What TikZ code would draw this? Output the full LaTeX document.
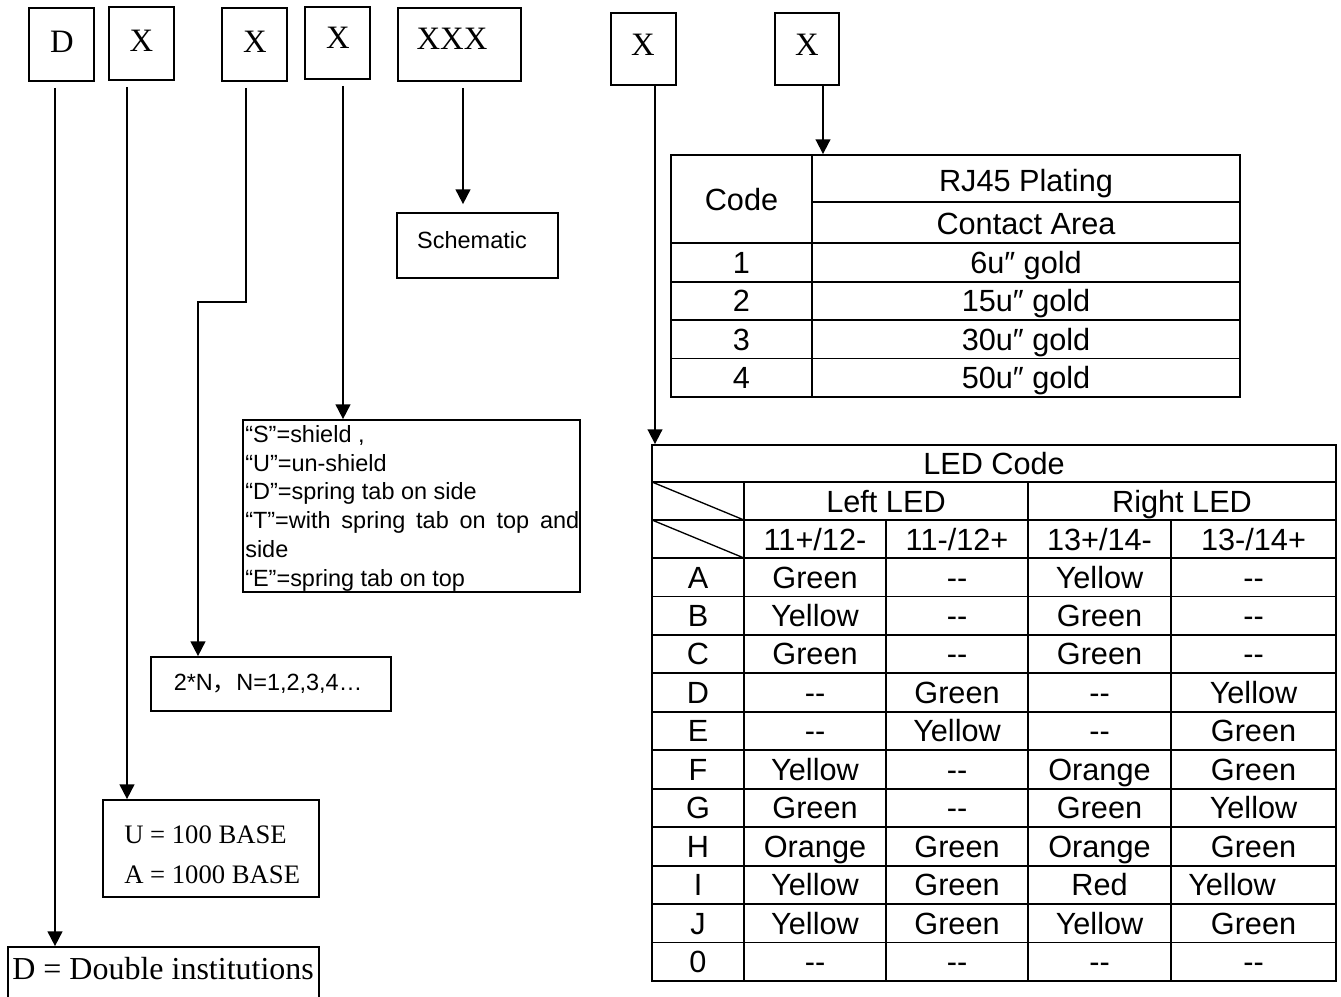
\documentclass[tikz,border=0pt]{standalone}
\usepackage{fontspec}
\setmainfont{Liberation Serif}
\newfontfamily\arial{Liberation Sans}
\newfontfamily\cjk{Noto Sans CJK SC}
\usetikzlibrary{arrows.meta,calc}
\newdimen\pxu \pxu=0.75pt
\begin{document}
\begin{tikzpicture}[x=0.75pt,y=-0.75pt,
  ebox/.style={draw,line width=1.3pt,inner sep=0pt},
  conn/.style={line width=1.4pt,-{Triangle[width=11pt,length=11pt]}},
  tline/.style={line width=1.4pt},
  bigserif/.style={inner sep=0pt,font=\fontsize{24.5}{29}\selectfont},
  tbl/.style={inner sep=0pt,anchor=base,font=\arial\fontsize{23}{27}\selectfont},
  smalltxt/.style={inner sep=0pt,font=\arial\fontsize{17.6}{21.6}\selectfont},
]
\useasboundingbox (0,0) rectangle (1341,996);
\clip (0,0) rectangle (1341,996);
\fill[white] (0,0) rectangle (1341,996);

% ---- top code boxes
\node[ebox,minimum width=65\pxu,minimum height=73\pxu] (bD) at (61.5,44.5) {};
\node[ebox,minimum width=65\pxu,minimum height=73\pxu] (bX1) at (141.5,43.5) {};
\node[ebox,minimum width=65\pxu,minimum height=73\pxu] (bX2) at (254.5,44.5) {};
\node[ebox,minimum width=65\pxu,minimum height=72\pxu] (bX3) at (337.5,43) {};
\node[ebox,minimum width=123\pxu,minimum height=73\pxu] (bXXX) at (459.5,44.5) {};
\node[ebox,minimum width=65\pxu,minimum height=72\pxu] (bX4) at (643.5,49) {};
\node[ebox,minimum width=64\pxu,minimum height=72\pxu] (bX5) at (807,49) {};
\node[bigserif] (tD) at (62,42) {D};
\node[bigserif] (tX1) at (141.5,41) {X};
\node[bigserif] (tX2) at (255,42) {X};
\node[bigserif] (tX3) at (338,38) {X};
\node[bigserif] (tXXX) at (452,39) {XXX};
\node[bigserif] (tX4) at (643,45) {X};
\node[bigserif] (tX5) at (807,45) {X};

% ---- description boxes
\node[ebox,minimum width=311\pxu,minimum height=66\pxu] (dbl) at (163.5,980) {};
\node[inner sep=0pt,anchor=base west,font=\fontsize{24}{28}\selectfont] (dtxt) at (12,979) {D = Double institutions};

\node[ebox,minimum width=216\pxu,minimum height=97\pxu] (ubox) at (211,848.5) {};
\node[inner sep=0pt,anchor=west,align=left,font=\fontsize{20}{30}\selectfont] (utxt) at (124,855) {U = 100 BASE\\A = 1000 BASE};

\node[ebox,minimum width=240\pxu,minimum height=54\pxu] (nbox) at (271,684) {};
\node[smalltxt,anchor=base] (ntxt) at (268,690) {2*N{\cjk ，}N=1,2,3,4…};

\node[ebox,minimum width=337\pxu,minimum height=172\pxu] (shield) at (411.5,506) {};
\node[smalltxt,anchor=north west,align=left] (shtxt) at (245,425) {“S”=shield ,\\“U”=un-shield\\“D”=spring tab on side\\\makebox[250.5pt][s]{“T”=with spring tab on top and}\\side\\“E”=spring tab on top};

\node[ebox,minimum width=161\pxu,minimum height=65\pxu] (schem) at (477.5,245.5) {};
\node[smalltxt,anchor=base] (schtxt) at (472,248) {Schematic};

% ---- RJ45 table
\node[ebox,line width=1.4pt,minimum width=569\pxu,minimum height=242\pxu] (rj) at (955.5,276) {};
\draw[tline] (812,155) -- (812,397);
\draw[tline] (812,202) -- (1240,202);
\foreach \yy in {243.2,281.6,320,358.5} \draw[tline] (671,\yy) -- (1240,\yy);
\node[tbl] (rjc) at (741.5,210) {Code};
\node[tbl] (rjh1) at (1026,191) {RJ45 Plating};
\node[tbl] (rjh2) at (1026,234) {Contact Area};
\foreach \n/\v [count=\i from 0] in {1/6u″ gold,2/15u″ gold,3/30u″ gold,4/50u″ gold}{
  \node[tbl] (rjn\i) at (741.5,{243.2+\i*38.45+30.2}) {\n};
  \node[tbl] (rjv\i) at (1026,{243.2+\i*38.45+30.2}) {\v};
}

% ---- LED table
\node[ebox,line width=1.4pt,minimum width=684\pxu,minimum height=536\pxu] (led) at (994,713) {};
\draw[tline] (652,482) -- (1336,482);
\draw[tline] (652,520) -- (1336,520);
\foreach \k in {0,...,10} \draw[tline] (652,{558+\k*38.45}) -- (1336,{558+\k*38.45});
\draw[tline] (744,482) -- (744,981);
\draw[tline] (1028,482) -- (1028,981);
\draw[tline] (886,520) -- (886,981);
\draw[tline] (1171,520) -- (1171,981);
\draw[line width=1pt] (652,482) -- (744,520);
\draw[line width=1pt] (652,520) -- (744,558);
\node[tbl] (ledh) at (994,474) {LED Code};
\node[tbl] (ledl) at (886,512) {Left LED};
\node[tbl] (ledr) at (1182,512) {Right LED};
\node[tbl] (ledc1) at (815,550) {11+/12-};
\node[tbl] (ledc2) at (957,550) {11-/12+};
\node[tbl] (ledc3) at (1099.5,550) {13+/14-};
\node[tbl] (ledc4) at (1253.5,550) {13-/14+};
\foreach \lab/\a/\b/\c/\d [count=\i from 0] in {
  A/Green/-{}-/Yellow/-{}-,
  B/Yellow/-{}-/Green/-{}-,
  C/Green/-{}-/Green/-{}-,
  D/-{}-/Green/-{}-/Yellow,
  E/-{}-/Yellow/-{}-/Green,
  F/Yellow/-{}-/Orange/Green,
  G/Green/-{}-/Green/Yellow,
  H/Orange/Green/Orange/Green,
  I/Yellow/Green/Red/\relax,
  J/Yellow/Green/Yellow/Green,
  0/-{}-/-{}-/-{}-/-{}-}{
  \node[tbl] (r\i c0) at (698,{558+\i*38.45+30}) {\lab};
  \node[tbl] (r\i c1) at (815,{558+\i*38.45+30}) {\a};
  \node[tbl] (r\i c2) at (957,{558+\i*38.45+30}) {\b};
  \node[tbl] (r\i c3) at (1099.5,{558+\i*38.45+30}) {\c};
  \node[tbl] (r\i c4) at (1253.5,{558+\i*38.45+30}) {\d};
}
\node[tbl] (r8c4b) at (1232,{558+8*38.45+30}) {Yellow};

% ---- connectors
\coordinate (sD) at ([xshift=-6.5\pxu,yshift=-4.5pt]bD.south);
\coordinate (s1) at ([xshift=-14.5\pxu,yshift=-4.5pt]bX1.south);
\coordinate (s2) at ([xshift=-8.5\pxu,yshift=-4.5pt]bX2.south);
\coordinate (s3) at ([xshift=5.5\pxu,yshift=-4.5pt]bX3.south);
\coordinate (s4) at ([xshift=3.5\pxu,yshift=-4.5pt]bXXX.south);
\coordinate (s5) at ([xshift=11.5\pxu]bX4.south);
\coordinate (s6) at ([xshift=16\pxu]bX5.south);
\coordinate (j2) at (198,302);
\draw[conn] (sD) -- (sD |- dbl.north);
\draw[conn] (s1) -- (s1 |- ubox.north);
\draw[conn] (s2) |- (j2) -- (j2 |- nbox.north);
\draw[conn] (s3) -- (s3 |- shield.north);
\draw[conn,shorten >=6pt] (s4) -- (s4 |- schem.north);
\draw[conn] (s5) -- (s5 |- led.north);
\draw[conn] (s6) -- (s6 |- rj.north);
\end{tikzpicture}
\end{document}
